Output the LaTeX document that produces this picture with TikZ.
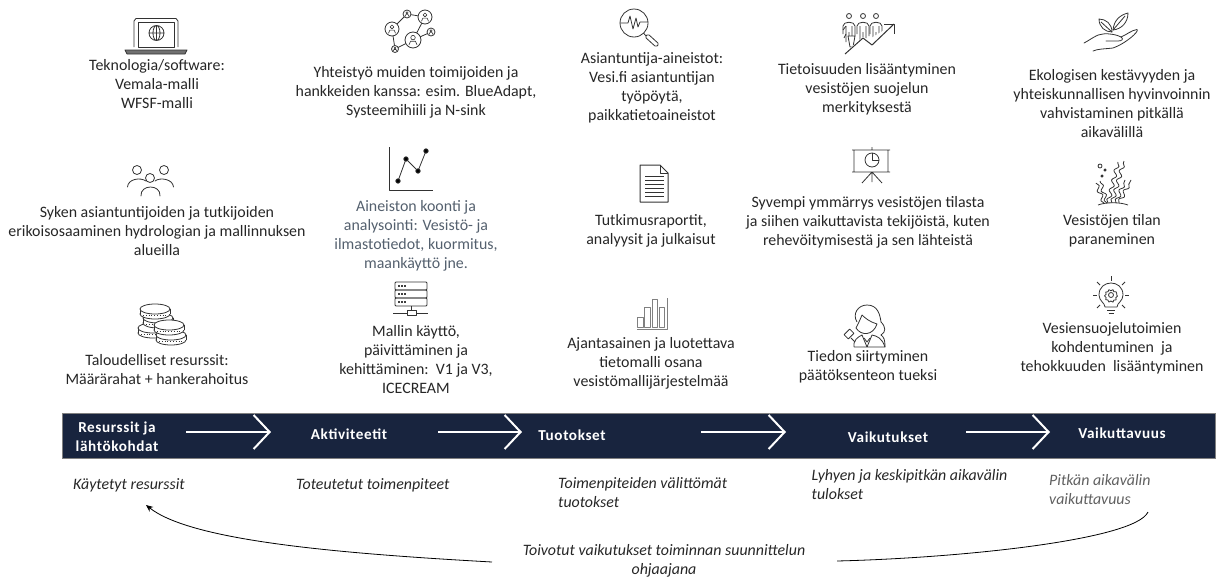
\documentclass[tikz,border=0pt]{standalone}
\usepackage{fontspec}
\setmainfont{Carlito}
\newfontfamily\hdrfont[LetterSpace=4]{Carlito}
\usetikzlibrary{arrows.meta,decorations.pathmorphing}
\definecolor{bar}{RGB}{24,36,62}
\definecolor{txt}{RGB}{38,38,38}
\definecolor{slate}{RGB}{84,96,110}
\definecolor{graytxt}{RGB}{96,96,96}
\definecolor{ico}{RGB}{50,50,50}
\tikzset{
  lbl/.style={align=center,text=txt,inner sep=0pt,font=\fontsize{15.9}{19}\selectfont},
  hdr/.style={align=center,text=white,inner sep=0pt,font=\fontsize{15.2}{19}\hdrfont\bfseries},
  note/.style={align=left,text=txt,inner sep=0pt,anchor=west,font=\fontsize{15.9}{19}\selectfont\itshape},
  ico/.style={draw=ico,line width=0.8pt,line join=round},
  flow/.style={draw=white,line width=2pt,-{Straight Barb[length=16pt,width=34pt,line width=2pt]}},
  feedback/.style={draw=black,line width=0.8pt},
}
\begin{document}
\begin{tikzpicture}[x=1pt,y=-1pt]
  \useasboundingbox (0,0) rectangle (1218,579);

  % column 1
  \node [lbl] (tekno) at (157,84) {Teknologia/software:\\Vemala-malli\\WFSF-malli};
  \node [lbl] (syken) at (157,231) {Syken asiantuntijoiden ja tutkijoiden\\erikoisosaaminen hydrologian ja mallinnuksen\\alueilla};
  \node [lbl] (talous) at (157,370) {Taloudelliset resurssit:\\Määrärahat + hankerahoitus};
  % column 2
  \node [lbl] (yhteistyo) at (416,92) {Yhteistyö muiden toimijoiden ja\\hankkeiden kanssa: esim. BlueAdapt,\\Systeemihiili ja N-sink};
  \node [lbl,text=slate] (aineisto) at (416,236) {Aineiston koonti ja\\analysointi: Vesistö- ja\\ilmastotiedot, kuormitus,\\maankäyttö jne.};
  \node [lbl] (malli) at (416,360) {Mallin käyttö,\\päivittäminen ja\\kehittäminen:\ \ V1 ja V3,\\ICECREAM};
  % column 3
  \node [lbl] (asiantuntija) at (652,88) {Asiantuntija-aineistot:\\Vesi.fi asiantuntijan\\työpöytä,\\paikkatietoaineistot};
  \node [lbl] (tutkimus) at (651,231) {Tutkimusraportit,\\analyysit ja julkaisut};
  \node [lbl] (ajantasa) at (651,363) {Ajantasainen ja luotettava\\tietomalli osana\\vesistömallijärjestelmää};
  % column 4
  \node [lbl] (tietoisuus) at (867,89) {Tietoisuuden lisääntyminen\\vesistöjen suojelun\\merkityksestä};
  \node [lbl] (syvempi) at (868,222) {Syvempi ymmärrys vesistöjen tilasta\\ja siihen vaikuttavista tekijöistä, kuten\\rehevöitymisestä ja sen lähteistä};
  \node [lbl] (tiedon) at (868,367) {Tiedon siirtyminen\\päätöksenteon tueksi};
  % column 5
  \node [lbl] (ekolog) at (1112,104) {Ekologisen kestävyyden ja\\yhteiskunnallisen hyvinvoinnin\\vahvistaminen pitkällä\\aikavälillä};
  \node [lbl] (tila) at (1112,231) {Vesistöjen tilan\\paraneminen};
  \node [lbl] (suojelu) at (1112,348) {Vesiensuojelutoimien\\kohdentuminen\ \ ja\\tehokkuuden\ \ lisääntyminen};

  % bar
  \fill [bar] (62.5,413) rectangle (1215,458);
  \draw [gray,line width=0.5pt] (62.5,413) rectangle (1215,458);
  \node [hdr] (resurssit) at (117,437) {Resurssit ja\\lähtökohdat};
  \node [hdr] (aktiviteetit) at (349,434) {Aktiviteetit};
  \node [hdr] (tuotokset) at (572,435) {Tuotokset};
  \node [hdr] (vaikutukset) at (888,437) {Vaikutukset};
  \node [hdr] (vaikuttavuus) at (1122,433) {Vaikuttavuus};
  \coordinate (fa) at (186,432);  \coordinate (fb) at (271,432);
  \coordinate (fc) at (438,432);  \coordinate (fd) at (522,432);
  \coordinate (fe) at (701,432);  \coordinate (ff) at (786,432);
  \coordinate (fg) at (966,432);  \coordinate (fh) at (1050,432);
  \draw [flow] (fa) -- (fb);
  \draw [flow] (fc) -- (fd);
  \draw [flow] (fe) -- (ff);
  \draw [flow] (fg) -- (fh);

  % notes
  \node [note] (kaytetyt) at (73,485) {Käytetyt resurssit};
  \node [note] (toteutetut) at (296,485) {Toteutetut toimenpiteet};
  \node [note] (toimen) at (558,492.5) {Toimenpiteiden välittömät\\tuotokset};
  \node [note] (lyhyen) at (811.5,484.5) {Lyhyen ja keskipitkän aikavälin\\tulokset};
  \node [note,text=graytxt] (pitkan) at (1049,489.5) {Pitkän aikavälin\\vaikuttavuus};
  \node [note,anchor=center,align=center] (toivotut) at (664,560.5) {Toivotut vaikutukset toiminnan suunnittelun\\ohjaajana};
  \coordinate (ka) at (492,562);
  \coordinate (kb) at (146,505);
  \coordinate (kc) at (837,561);
  \coordinate (kd) at (1148,512);
  \draw [feedback,-{Stealth[length=7pt,width=6pt]}] (ka) .. controls (330,553) and (190,540) .. (kb);
  \draw [feedback] (kc) .. controls (960,558) and (1135,540) .. (kd);

  % laptop
  \draw [ico] (134,47) -- (134,21) -- (136,18.5) -- (176,18.5) -- (178,21) -- (178,47);
  \draw [ico] (138,22) rectangle (174,47);
  \draw [ico,fill=ico!70] (125,50) -- (187,50) -- (185,54) -- (127,54) -- cycle;
  \draw [ico] (156.5,33) circle (7.5) (149,33) -- (164,33) (156.5,25.5) -- (156.5,40.5)
    (156.5,33) ellipse (3.5 and 7.5);

  % people
  \foreach \hx/\hy in {137/170,164/170,150/178} {
    \draw [ico] (\hx,\hy) circle (4.5);
  }
  \draw [ico,line cap=round] (127.5,187) .. controls (128,179) and (140,177) .. (146,181);
  \draw [ico,line cap=round] (155,181) .. controls (160,177) and (173,179) .. (173.5,187);
  \draw [ico,line cap=round] (141,196) .. controls (140,184) and (161,184) .. (160,196);

  % coins
  \foreach \cx/\cy in {153/328,158/318,155/309,171/335,169/325} {
    \fill [white] (\cx-15,\cy) rectangle (\cx+15,\cy+5);
    \draw [ico,fill=white] (\cx,\cy+5) ellipse (15 and 5);
    \fill [white] (\cx-15,\cy) rectangle (\cx+15,\cy+5);
    \draw [ico] (\cx-15,\cy) -- (\cx-15,\cy+5) (\cx+15,\cy) -- (\cx+15,\cy+5);
    \draw [ico,dotted] (\cx-12,\cy+6.5) -- (\cx+12,\cy+6.5);
    \draw [ico,fill=white] (\cx,\cy) ellipse (15 and 5);
  }

  % network
  \draw [ico] (407,14) -- (425,17) (407,14) -- (392,29) (392,29) -- (395,49) (395,49) -- (413,40)
    (413,40) -- (425,17) (413,40) -- (431,32);
  \foreach \nx/\ny/\nr in {407/14/4,392/29/7,395/49/3.5,413/40/8,425/17/7,431/32/4} {
    \draw [ico,fill=white] (\nx,\ny) circle (\nr);
    \draw [ico,line width=0.6pt] (\nx,\ny-0.3*\nr) circle (0.28*\nr);
    \draw [ico,line width=0.6pt] (\nx-0.5*\nr,\ny+0.6*\nr) -- (\nx-0.3*\nr,\ny+0.15*\nr) -- (\nx+0.3*\nr,\ny+0.15*\nr) -- (\nx+0.5*\nr,\ny+0.6*\nr);
  }

  % chart
  \draw [ico,line width=1pt] (389,147) -- (389,190.5) -- (433,190.5);
  \draw [ico] (398,181) -- (406,159) -- (418,171) -- (426,151);
  \foreach \px/\py in {398/181,406/159,418/171,426/151} {
    \fill [ico] (\px,\py) circle (2.2);
  }

  % server
  \foreach \sy in {282,290,298} {
    \draw [ico,rounded corners=1pt] (395,\sy) rectangle (427,\sy+8);
    \foreach \dx in {399,402,405} {
      \fill [ico] (\dx,\sy+4) circle (0.7);
    }
  }
  \draw [ico] (411,306) -- (411,310) (393,313) -- (407,313) (416,313) -- (428,313);
  \draw [ico] (407,310) rectangle (416,315);

  % magnifier
  \draw [ico] (634,23) circle (14);
  \draw [ico] (620,23) -- (628,23) -- (630,16) -- (633,29) -- (636,18) -- (638,27) -- (640,22) -- (648,22);
  \draw [ico] (643.5,33) -- (646,36);
  \draw [ico,rounded corners=1.5pt] (645,37) -- (648,34) -- (659,44) -- (656,47) -- cycle;

  % document
  \draw [ico,line width=1pt] (640,165) -- (660,165) -- (668,173) -- (668,202) -- (640,202) -- cycle;
  \draw [ico] (660,165) -- (660,173) -- (668,173);
  \foreach \ly in {176,180,184,188,192,196} {
    \draw [ico,line width=1pt] (645,\ly) -- (664,\ly);
  }

  % bars
  \draw [ico,draw=gray] (637.5,317) rectangle (643,327);
  \draw [ico,draw=gray] (644.5,307) rectangle (650,327);
  \draw [ico,draw=gray] (652,299) rectangle (657.5,327);
  \draw [ico,draw=gray] (659,307) rectangle (664.5,327);
  \draw [ico,draw=gray,line width=1pt] (667,298) -- (667,329.5) -- (636.5,329.5);

  % people with arrow
  \foreach \hx in {849,863,876} {
    \draw [ico] (\hx,16) circle (2.5);
    \draw [ico] (\hx-6,34) -- (\hx-6,26) .. controls (\hx-6,21) and (\hx+6,21) .. (\hx+6,26) -- (\hx+6,36)
      (\hx-3,26) -- (\hx-3,42) (\hx+3,26) -- (\hx+3,38) (\hx,32) -- (\hx,40);
  }
  \draw [ico] (846,34) -- (844,38) (846,26) -- (843,30);
  \draw [ico,fill=white] (848,36) -- (855,36) -- (853,47) -- (850,47) -- cycle;
  \draw [ico,fill=white,draw=white,line width=2pt] (845,54) -- (863,38) -- (872,45) -- (894,24);
  \draw [ico,line width=1pt] (845,54) -- (863,38) -- (872,45) -- (894,24);
  \draw [ico,line width=1pt] (884,24) -- (894,24) -- (894,34);

  % presentation
  \draw [ico] (852,150) -- (890,150) (852,172) -- (890,172) (854,150) -- (854,172) (888,150) -- (888,172)
    (872,147) -- (872,150) (872,172) -- (872,182) (872,172) -- (862,183) (872,172) -- (882,183);
  \draw [ico] (872,160) circle (7);
  \draw [ico] (872,153) -- (872,160) -- (879,160);

  % woman with gavel
  \draw [ico] (857,322) .. controls (852,314) and (858,305) .. (867,305) .. controls (878,305) and (880,315) .. (881,322)
    .. controls (886,327) and (886,332) .. (881,335) .. controls (884,337) and (885,340) .. (885,347);
  \draw [ico] (856,328) .. controls (861,336) and (873,336) .. (877,324) .. controls (870,322) and (865,318) .. (862,315) .. controls (860,320) and (858,324) .. (856,328);
  \draw [ico] (854,347) .. controls (853,340) and (858,337) .. (862,335) -- (867,347) -- (872,335) .. controls (877,336) and (882,338) .. (885,347) -- (854,347);
  \draw [ico] (864,338) -- (867,342) -- (870,338);
  \draw [ico,rotate around={45:(849,334)}] (845,331) rectangle (853,337);
  \draw [ico] (851,338) -- (855,342);

  % plant in hand
  \draw [ico,line cap=round] (1084,43) .. controls (1090,40) and (1097,34) .. (1103,34) .. controls (1108,33) and (1118,35) .. (1121,37)
    .. controls (1124,39) and (1122,41) .. (1118,41) -- (1106,41);
  \draw [ico,line cap=round] (1121,37) .. controls (1126,35) and (1132,30) .. (1137,29.5) .. controls (1140,31) and (1125,44) .. (1113,48)
    .. controls (1104,49) and (1097,49) .. (1093,51);
  \draw [ico] (1112,32) .. controls (1105,32) and (1099,27) .. (1099,19) .. controls (1106,19) and (1112,24) .. (1112,32) -- cycle;
  \draw [ico] (1113,30) .. controls (1114,20) and (1120,15) .. (1128,13) .. controls (1128,22) and (1122,29) .. (1113,30) -- cycle;
  \draw [ico] (1101,22) -- (1112,32) (1125,16) -- (1113,30);

  % seaweed
  \foreach \ax/\ay/\bx/\by in {1104/203/1096/183,1107/203/1100/181,1108/203/1118/162,1112/203/1124/161,1116/203/1125/180,1119/203/1131/180} {
    \draw [ico,decorate,decoration={snake,amplitude=2pt,segment length=10pt}] (\ax,\ay) -- (\bx,\by);
  }
  \draw [ico] (1098,205) .. controls (1106,202) and (1120,202) .. (1128,205);
  \draw [ico] (1100,166) circle (2);
  \fill [ico] (1105,170) circle (1.2) (1102,176) circle (1.2);

  % bulb
  \draw [ico] (1105,307) .. controls (1105,303) and (1099,301) .. (1099,295) .. controls (1099,279) and (1123,279) .. (1123,295)
    .. controls (1123,301) and (1117,303) .. (1117,307) -- cycle;
  \draw [ico] (1107,310) -- (1115,310) (1108.5,313) -- (1113.5,313);
  \draw [ico] (1111,295) circle (2.5);
  \draw [ico,decorate,decoration={snake,amplitude=0.7pt,segment length=3.6pt}] (1111,295) circle (5.8);
  \foreach \ra/\rb/\rc/\rd in {1111/276/1111/281,1093/295/1097/295,1125/295/1129/295,1097/282/1100/285,1125/282/1122/285,1097/308/1100/305,1125/308/1122/305} {
    \draw [ico] (\ra,\rb) -- (\rc,\rd);
  }
\end{tikzpicture}
\end{document}
